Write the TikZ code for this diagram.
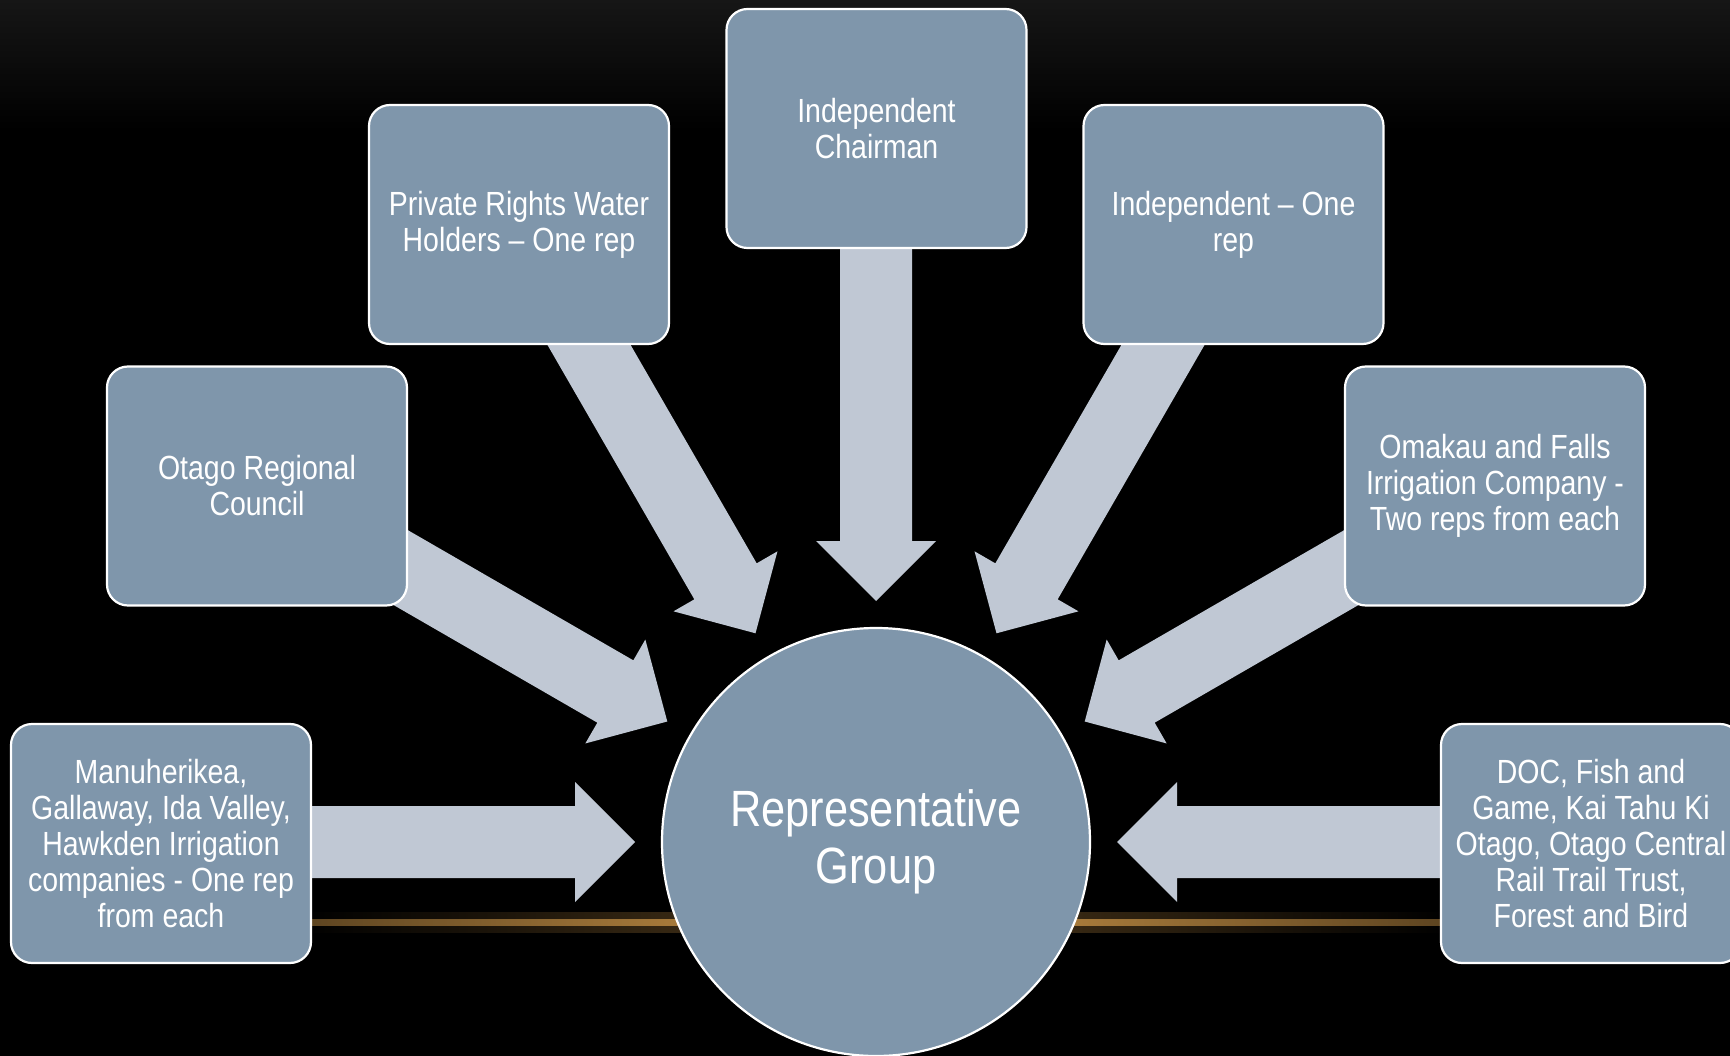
\documentclass[tikz,border=0pt]{standalone}
\usepackage{fontspec}
\setmainfont{Liberation Sans}[FakeStretch=0.85]
\usetikzlibrary{calc}
\definecolor{boxfill}{RGB}{127,150,171}
\definecolor{arrowfill}{RGB}{192,200,212}
\definecolor{glow}{RGB}{205,150,72}
\definecolor{topgray}{RGB}{22,22,22}
\newcommand\myblockarrow[1]{%
  \fill[arrowfill, shift={(C)}, rotate=#1] (241,0) -- (301,60) -- (301,36) -- (620,36) -- (620,-36) -- (301,-36) -- (301,-60) -- cycle;}
\begin{document}
\begin{tikzpicture}[x=1pt,y=-1pt,
  box/.style={draw=white, line width=2.2pt, fill=boxfill, rounded corners=21pt,
    minimum width=300pt, minimum height=239pt, align=center, text=white,
    font=\fontsize{33.5}{36}\selectfont, inner sep=0pt},
  hub/.style={circle, draw=white, line width=2.2pt, fill=boxfill, minimum size=428pt,
    align=center, text=white, font=\fontsize{51}{57}\selectfont, inner sep=0pt}]
% background
\fill[black] (0,0) rectangle (1730,1056);
\fill[top color=topgray, bottom color=black] (0,0) rectangle (1730,130);
\useasboundingbox (0,0) rectangle (1730,1056);
% glow line
\fill[left color=black, right color=glow!40!black] (300,912) rectangle (876,932);
\fill[left color=glow!40!black, right color=black] (876,912) rectangle (1450,932);
\fill[left color=glow!45!black, right color=glow] (300,919) rectangle (876,925);
\fill[left color=glow, right color=glow!45!black] (876,919) rectangle (1450,925);
\coordinate (C) at (876,842);
% arrows
\myblockarrow{90}
\myblockarrow{120}
\myblockarrow{150}
\myblockarrow{180}
\myblockarrow{60}
\myblockarrow{30}
\myblockarrow{0}
% boxes
\node[box] (chair) at (876.5,128.5) {Independent\\Chairman};
\node[box] (priv) at (519,224.5) {Private Rights Water\\Holders -- One rep};
\node[box] (indep) at (1233.5,224.5) {Independent -- One\\rep};
\node[box] (orc) at (257,486) {Otago Regional\\Council};
\node[box] (omak) at (1495,486) {Omakau and Falls\\Irrigation Company -\\Two reps from each};
\node[box] (manu) at (161,843.5) {Manuherikea,\\Gallaway, Ida Valley,\\Hawkden Irrigation\\companies - One rep\\from each};
\node[box] (doc) at (1591,843.5) {DOC, Fish and\\Game, Kai Tahu Ki\\Otago, Otago Central\\Rail Trail Trust,\\Forest and Bird};
\node[hub] (rep) at (C) {Representative\\Group};
\end{tikzpicture}
\end{document}
